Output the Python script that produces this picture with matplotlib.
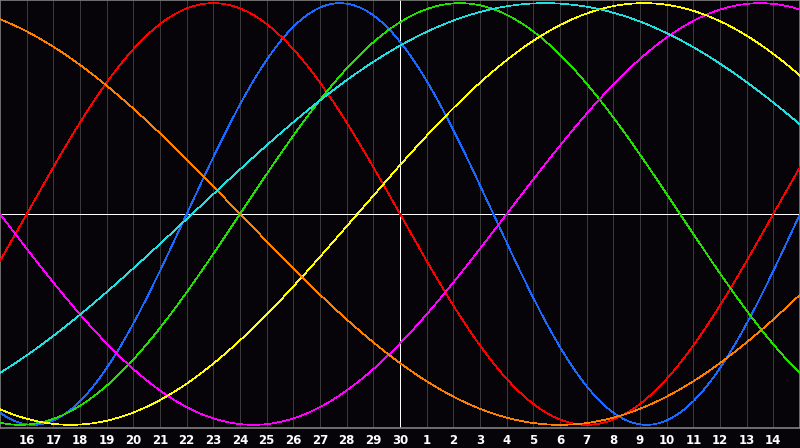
import numpy as np
import matplotlib
matplotlib.use("Agg")
import matplotlib.pyplot as plt

# biorhythm cycles, phase = days into the cycle on the centre day (30th)
cycle_names = ["physical", "emotional", "intellectual", "intuitive", "aesthetic", "awareness", "spiritual"]
periods = [23, 28, 33, 38, 43, 48, 53]
phase_days = [8, 14, 6, 34, 1.6, 30, 7.8]
colors = ["#1a6aff", "#ff0000", "#22e000", "#ff00ff", "#ffff00", "#ff8000", "#22e0e0"]

# day of month under each grid line, centre line is the 30th
day_offsets = list(range(-14, 15))
day_labels = ["16", "17", "18", "19", "20", "21", "22", "23", "24", "25", "26", "27", "28", "29", "30",
              "1", "2", "3", "4", "5", "6", "7", "8", "9", "10", "11", "12", "13", "14"]

bg = "#060408"
fig = plt.figure(figsize=(8, 4.48), dpi=100, facecolor=bg)
ax = fig.add_axes([0, 20 / 448, 1, 428 / 448], facecolor=bg)

d = np.linspace(-15, 15, 1201)
for name, p, ph, c in zip(cycle_names, periods, phase_days, colors):
    y = np.sin(2 * np.pi * (ph + d) / p)
    ax.plot(d, y, color=c, lw=0.5, antialiased=False, label=name, zorder=3)

for off in day_offsets:
    if off == 0:
        continue
    ax.axvline(off, color="#3a3a3a", lw=0.6, antialiased=False, zorder=1)
ax.axvline(0, color="white", lw=0.7, antialiased=False, zorder=2)
ax.axhline(0, color="white", lw=0.7, antialiased=False, zorder=2)

ax.set_xlim(-15, 15)
ax.set_ylim(-1.015, 1.015)
ax.set_xticks(day_offsets)
ax.set_xticklabels(day_labels, color="white", fontsize=8.5, fontweight="bold", family="DejaVu Sans")
ax.tick_params(axis="x", length=0, pad=4)
ax.set_yticks([])
for s in ax.spines.values():
    s.set_color("#808080")
    s.set_linewidth(1.2)

fig.savefig("out.png", dpi=100, facecolor=bg)
